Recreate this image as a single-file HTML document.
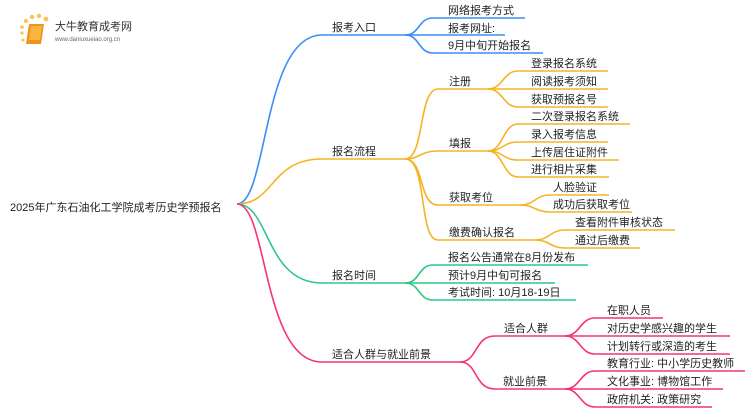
<!DOCTYPE html>
<html><head><meta charset="utf-8"><style>
body{margin:0;background:#fff;width:750px;height:410px;overflow:hidden}
svg text{font-family:"Liberation Sans","Noto Sans CJK SC",sans-serif;font-size:11px;fill:#222}
</style></head><body>
<svg width="750" height="410" xmlns="http://www.w3.org/2000/svg">
<g fill="none" stroke-width="1.6">
<path d="M237,204 C268,204 262,35 322,35 H405" stroke="#3a8ef5"/>
<path d="M237,204 C275,204 270,159 322,159 H405" stroke="#f5b323"/>
<path d="M237,204 C270,204 265,283 322,283 H405" stroke="#2ec785"/>
<path d="M237,204 C268,204 262,362 322,362 H460" stroke="#f5327a"/>
<g stroke="#3a8ef5">
<path d="M405,35 C420,35 418,18 433,18 H525"/>
<path d="M405,35 H505"/>
<path d="M405,35 C420,35 418,53 433,53 H543"/>
</g>
<g stroke="#f5b323">
<path d="M405,159 C425,159 418,89 438,89 H488"/>
<path d="M405,159 C420,159 420,151 438,151 H488"/>
<path d="M405,159 C425,159 418,205 438,205 H520"/>
<path d="M405,159 C428,159 418,240 438,240 H535"/>
<path d="M488,89 C503,89 503,71 518,71 H608"/>
<path d="M488,89 H608"/>
<path d="M488,89 C503,89 503,107 518,107 H608"/>
<path d="M488,151 C503,151 503,124 518,124 H630"/>
<path d="M488,151 C503,151 503,142 518,142 H608"/>
<path d="M488,151 C503,151 503,160 518,160 H619"/>
<path d="M488,151 C503,151 503,177 518,177 H609"/>
<path d="M520,205 C535,205 535,195 550,195 H609"/>
<path d="M520,205 C535,205 535,212 550,212 H632"/>
<path d="M535,240 C550,240 550,230 565,230 H675"/>
<path d="M535,240 C550,240 550,248 565,248 H640"/>
</g>
<g stroke="#2ec785">
<path d="M405,283 C420,283 418,265 433,265 H588"/>
<path d="M405,283 H555"/>
<path d="M405,283 C420,283 418,300 433,300 H576"/>
</g>
<g stroke="#f5327a">
<path d="M460,362 C478,362 474,336 495,336 H565"/>
<path d="M460,362 C478,362 474,389 495,389 H565"/>
<path d="M565,336 C580,336 580,318 595,318 H663"/>
<path d="M565,336 H730"/>
<path d="M565,336 C580,336 580,354 595,354 H730"/>
<path d="M565,389 C580,389 580,371 595,371 H745"/>
<path d="M565,389 H723"/>
<path d="M565,389 C580,389 580,407 595,407 H712"/>
</g>
</g>
<g>
<circle cx="22" cy="27" r="1.8" fill="#f7c64a"/><circle cx="26" cy="21" r="2" fill="#f7c64a"/><circle cx="32" cy="17" r="2.2" fill="#f7c64a"/><circle cx="39" cy="16" r="2.2" fill="#f7c64a"/><circle cx="46" cy="19" r="2.4" fill="#f7c64a"/><circle cx="22" cy="33" r="1.6" fill="#f7c64a"/><circle cx="23" cy="40" r="1.5" fill="#f7c64a"/>
<path d="M29,24 L44,24 L41,44 L26,44 Z" fill="#f0921e"/>
<path d="M31,26 L42,26 L40,40 L29,40 Z" fill="#f7b640"/>
<text x="55" y="30" style="font-size:11px;fill:#333">大牛教育成考网</text>
<text x="55" y="41" style="font-size:6px;fill:#666">www.daniuxueiao.org.cn</text>
</g>
<text x="10" y="211">2025年广东石油化工学院成考历史学预报名</text>
<text x="332" y="31">报考入口</text>
<text x="332" y="155">报名流程</text>
<text x="332" y="279">报名时间</text>
<text x="332" y="358">适合人群与就业前景</text>
<text x="448" y="14">网络报考方式</text>
<text x="448" y="32">报考网址:</text>
<text x="448" y="49">9月中旬开始报名</text>
<text x="449" y="85">注册</text>
<text x="449" y="147">填报</text>
<text x="449" y="201">获取考位</text>
<text x="449" y="236">缴费确认报名</text>
<text x="531" y="67">登录报名系统</text>
<text x="531" y="85">阅读报考须知</text>
<text x="531" y="103">获取预报名号</text>
<text x="531" y="120">二次登录报名系统</text>
<text x="531" y="138">录入报考信息</text>
<text x="531" y="156">上传居住证附件</text>
<text x="531" y="173">进行相片采集</text>
<text x="553" y="191">人脸验证</text>
<text x="553" y="208">成功后获取考位</text>
<text x="575" y="226">查看附件审核状态</text>
<text x="575" y="244">通过后缴费</text>
<text x="448" y="261">报名公告通常在8月份发布</text>
<text x="448" y="279">预计9月中旬可报名</text>
<text x="448" y="296">考试时间: 10月18-19日</text>
<text x="504" y="332">适合人群</text>
<text x="503" y="385">就业前景</text>
<text x="607" y="314">在职人员</text>
<text x="607" y="332">对历史学感兴趣的学生</text>
<text x="607" y="350">计划转行或深造的考生</text>
<text x="607" y="367">教育行业: 中小学历史教师</text>
<text x="607" y="385">文化事业: 博物馆工作</text>
<text x="607" y="403">政府机关: 政策研究</text>
</svg>
</body></html>
